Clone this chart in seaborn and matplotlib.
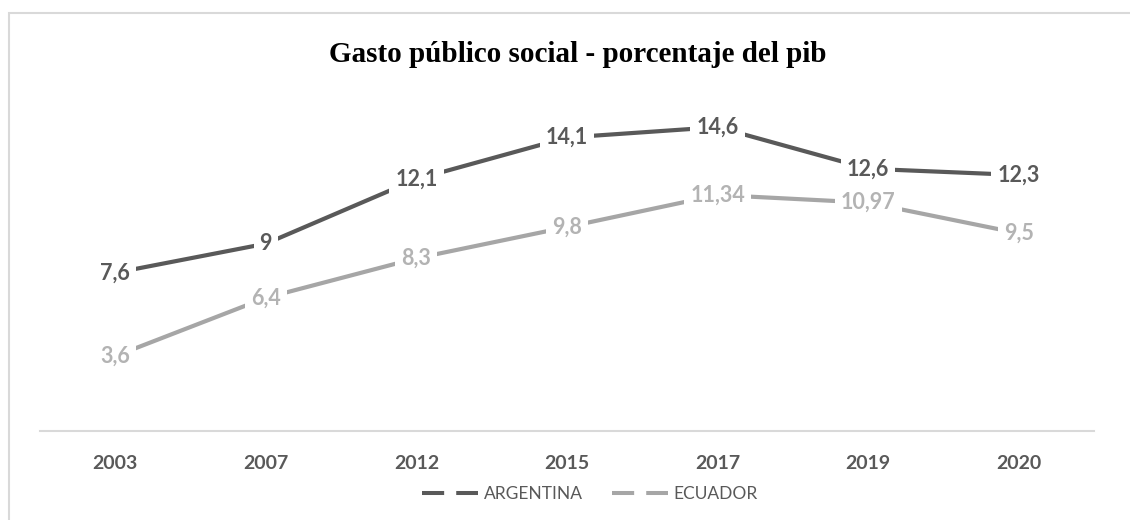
import matplotlib
matplotlib.use("Agg")
import matplotlib.pyplot as plt
from matplotlib.lines import Line2D
from matplotlib.patches import Rectangle
import seaborn as sns
import pandas as pd

# Gasto público social como porcentaje del PIB
years = ["2003", "2007", "2012", "2015", "2017", "2019", "2020"]
argentina = [7.6, 9, 12.1, 14.1, 14.6, 12.6, 12.3]
ecuador = [3.6, 6.4, 8.3, 9.8, 11.34, 10.97, 9.5]
series_names = ["ARGENTINA", "ECUADOR"]
title = "Gasto público social - porcentaje del pib"

line_colors = {"ARGENTINA": "#595959", "ECUADOR": "#A6A6A6"}
label_colors = {"ARGENTINA": "#595959", "ECUADOR": "#B3B3B3"}

df = pd.DataFrame({
    "year": years * 2,
    "value": argentina + ecuador,
    "pais": [series_names[0]] * len(years) + [series_names[1]] * len(years),
})

sns.set_theme(style="white")
plt.rcParams["font.family"] = ["Lato", "DejaVu Sans"]

fig = plt.figure(figsize=(11.3, 5.2), dpi=100)
W, H = 1130, 520

# outer chart frame
fig.patches.append(Rectangle((9 / W, -0.05), 1.2, (H - 13) / H + 0.05,
                             transform=fig.transFigure, fill=False,
                             edgecolor="#D9D9D9", linewidth=1.5, zorder=0))

ax = fig.add_axes([40 / W, (H - 431) / H, (1094 - 40) / W, (431 - 98) / H])
ax.set_facecolor("none")

sns.lineplot(data=df, x="year", y="value", hue="pais", palette=line_colors,
             linewidth=3.0, sort=False, legend=False, ax=ax, zorder=2)

ax.set_xlim(-0.5, len(years) - 0.5)
ax.set_ylim(0, 16)
ax.set_xlabel("")
ax.set_ylabel("")
ax.set_yticks([])
for s in ["top", "left", "right"]:
    ax.spines[s].set_visible(False)
ax.spines["bottom"].set_color("#D9D9D9")
ax.spines["bottom"].set_linewidth(1.5)
ax.tick_params(axis="x", length=0, pad=17, labelsize=14, labelcolor="#595959")
for t in ax.get_xticklabels():
    t.set_fontweight("bold")


def fmt(v):
    return f"{v:g}".replace(".", ",")


for name, vals in zip(series_names, [argentina, ecuador]):
    for i, v in enumerate(vals):
        ax.text(i, v, fmt(v), ha="center", va="center", fontsize=15.5,
                fontweight="bold", color=label_colors[name], zorder=3,
                bbox=dict(boxstyle="square,pad=0.28", facecolor="white",
                          edgecolor="none"))

fig.text(578 / W, (H - 62) / H, title, ha="center", va="baseline",
         fontsize=21, fontweight="bold", family="Liberation Serif",
         color="black")

handles = [Line2D([0], [0], color=line_colors[n], linewidth=2.9,
                  linestyle=(0, (5.5, 3.0)), solid_capstyle="butt",
                  dash_capstyle="butt") for n in series_names]
leg = fig.legend(handles, series_names, loc="center",
                 bbox_to_anchor=(590 / W, (H - 494) / H), ncol=2,
                 frameon=False, fontsize=12.5, handlelength=3.2,
                 handletextpad=0.35, columnspacing=1.7)
for t in leg.get_texts():
    t.set_color("#595959")

fig.savefig("out.png", dpi=100, facecolor="white")
